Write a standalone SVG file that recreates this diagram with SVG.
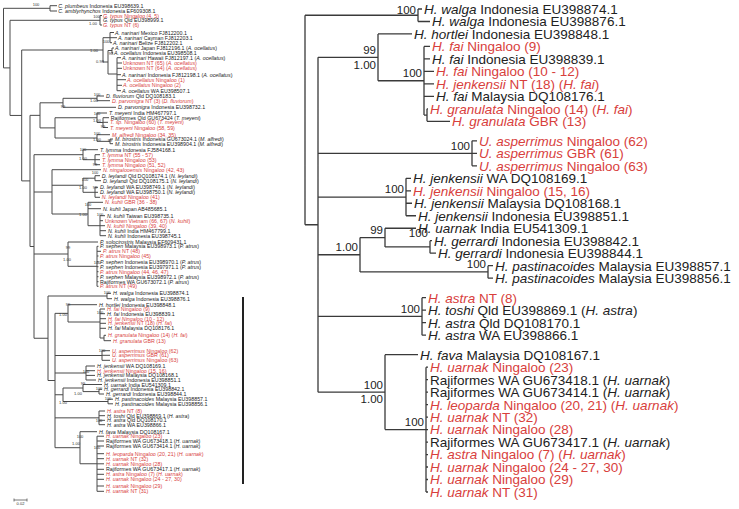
<svg xmlns="http://www.w3.org/2000/svg" width="739" height="509" viewBox="0 0 739 509">
<style>
text{font-family:"Liberation Sans",Arial,sans-serif;fill:#222}
.l{font-size:5.3px}
.r{font-size:13.5px}
.s{font-size:4px;text-anchor:middle;fill:#333}
.rs{font-size:11.5px;text-anchor:end;fill:#222}
.red{fill:#d8403c}
.i{font-style:italic}
.tree{fill:none;stroke:#4a4a4a;stroke-width:1}
.rtree{fill:none;stroke:#3a3a3a;stroke-width:1.3}
</style>
<rect width="739" height="509" fill="#fff"/>
<g id="connectors">
<path class="tree" d="M3.5,8.3V67.9M3.5,8.3H50M50,5.7V11M50,5.7H57M50,11H57
M3.5,67.9H10M10,20.3V115.45M10,20.3H100M100,15.5V25M100,15.5H102M100,25H102
M10,115.45H21.7M21.7,50V180.9M21.7,50H103M103,37.7V62M103,37.7H110M110,32.5V42.7M110,32.5H114M110,37.7H117M110,42.7H112
M103,62H108M108,50.5V74M108,50.5H112M112,48V53M112,48H114M112,53H113M108,74H117M117,57.7V90.7M117,57.7H121M117,63H122M117,68.3H122M117,74.7H121M117,79.7H126M117,85.3H122M117,90.7H121
M21.7,180.9H30M30,115.35V246.5M30,115.35H40M40,102.8V127.9M40,102.8H63M63,98.3V107.3M63,98.3H97M97,96V100.7M97,96H104M97,100.7H110M63,107.3H116
M40,127.9H55M55,117.75V138M55,117.75H97M97,113V122.5M97,113H107M97,122.5H103M103,117.7V127.5M103,117.7H109M103,122.3H108M103,127.5H108
M55,138H97M97,134.7V141.35M97,134.7H110M97,141.35H110M110,139V143.7M110,139H113M110,143.7H113
M30,246.5H34M34,154.7V338.25M34,154.7H83M83,149.7V159.7M83,149.7H98M83,159.7H95M95,154.7V164.7M95,154.7H100M95,159.7H100M95,164.7H100
M34,192H52M52,169.7V214M52,169.7H101M52,185.25H83M83,178.2V192.3M83,178.2H95M95,175.7V180.7M95,175.7H100M95,180.7H101M83,192.3H95M95,187.3V197.3M95,187.3H98M95,192.3H98M95,197.3H100
M52,214H88M88,202.3V225.7M88,202.3H103M88,208.7H101M88,225.7H100M100,215.7V235.7M100,215.7H105M100,220.7H103M100,225.7H105M100,230.7H106M100,235.7H106
M34,254H68M68,242V266.3M68,242H98M68,266.3H97M97,246.3V286.3M97,246.3H98.5M97,251.3H101M97,256H98.5M97,261.7H98.5M97,266.7H98.5M97,271.7H98.5M97,276.7H98.5M97,281.7H98.5M97,286.3H98.5
M34,338.25H48M48,296V380.5M48,296H107M107,293.3V298.7M107,293.3H111M107,298.7H112M48,380.5H55M55,313.35V447.7
M55,313.35H68M68,304.7V322M68,304.7H97M68,322H100M100,309V338M100,309H105M100,313.7H105M100,318.7H106M100,323.3H106M100,328.3H106M100,338H104M104,335.3V340.7M104,335.3H106M104,340.7H111
M55,355.5H102M102,350.7V360.3M102,350.7H110M102,355.3H110M102,360.3H110
M55,373H86M86,366V380M86,366H95M86,370.7H95M86,375.4H95M86,380H96
M55,394.75H63M63,388V401.5M63,388H83M83,384.5V391.6M83,384.5H102M83,391.6H99M99,389.2V394M99,389.2H102M99,394H104M63,401.5H108M108,399.2V403.8M108,399.2H113M108,403.8H113
M55,417.85H99M99,411V424.7M99,411H105M99,415.7H105M99,420.3H105M99,424.7H105
M55,447.7H80M80,431.7V463.75M80,431.7H97M80,463.75H97M97,436.2V491.3M97,436.2H104M97,441H104M97,446H104M97,453.7H104M97,458.7H104M97,463.8H104M97,469.3H104M97,474.3H104M97,479.3H104M97,486H104M97,491.3H104"/>
<path d="M243,297V484" fill="none" stroke="#222" stroke-width="2"/>
<path d="M14,500H27M14,498.5V501.5M27,498.5V501.5" fill="none" stroke="#555" stroke-width="0.8"/>
<path class="rtree" d="M305,15.24V224.75M305,15.24H418M418,9V21.48M418,9H422M418,21.48H430
M305,224.75H318M318,57.36V392.14
M318,57.36H378M378,33.96V80.76M378,33.96H412M378,80.76H424M424,46.44V115.08M424,46.44H430M424,58.92H430M424,71.4H434M424,83.88H434M424,96.36H434M424,115.08H427M427,108.84V121.32M427,108.84H428M427,121.32H450
M318,153.35H472M472,140.87V165.83M472,140.87H477M472,153.35H477M472,165.83H477
M318,197.03H406M406,178.31V215.75M406,178.31H411M406,190.79H411M406,203.27H412M406,215.75H416
M318,254.75H360M360,237.59V271.91M360,237.59H385M385,228.23V246.95M385,228.23H416M385,246.95H430M430,240.71V253.19M430,240.71H432M430,253.19H436M360,271.91H488M488,265.67V278.15M488,265.67H493M488,278.15H493
M318,316.42H422M422,297.7V335.14M422,297.7H426M422,310.18H426M422,322.66H426M422,335.14H426
M318,392.14H385M385,354.7V429.58M385,354.7H418M385,429.58H426M426,367.18V491.98M426,367.18H428M426,379.66H428M426,392.14H428M426,404.62H428M426,417.1H428M426,429.58H428M426,442.06H428M426,454.54H428M426,467.02H428M426,479.5H428M426,491.98H428"/>
</g>
<g id="left-support">
<text class="s" x="36" y="6.4">100</text>
<text class="s" x="96.7" y="18.4">100</text><text class="s" x="93" y="25.4">1.00</text>
<text class="s" x="106" y="43.4">100</text><text class="s" x="94" y="52.4">1.00</text>
<text class="s" x="111" y="55.4">98</text><text class="s" x="100" y="63.4">0.98</text>
<text class="s" x="97" y="96.4">100</text><text class="s" x="94" y="102.4">1.00</text><text class="s" x="63" y="108.4">99</text>
<text class="s" x="97" y="115.4">100</text><text class="s" x="97" y="122.4">1.00</text><text class="s" x="103" y="128.4">99</text>
<text class="s" x="97" y="135.4">100</text><text class="s" x="97" y="141.4">1.00</text><text class="s" x="110" y="142.4">99</text>
<text class="s" x="83" y="151.4">100</text><text class="s" x="83" y="160.4">1.00</text><text class="s" x="95" y="166.4">99</text>
<text class="s" x="95" y="174.4">100</text><text class="s" x="85" y="181.4">100</text><text class="s" x="83" y="189.4">1.00</text><text class="s" x="95" y="189.4">99</text>
<text class="s" x="88" y="206.4">100</text><text class="s" x="83" y="216.4">1.00</text><text class="s" x="100" y="216.4">100</text>
<text class="s" x="68" y="249.4">99</text><text class="s" x="67" y="261.4">1.00</text><text class="s" x="97" y="264.4">100</text>
<text class="s" x="107" y="294.4">100</text>
<text class="s" x="68" y="306.4">99</text><text class="s" x="63" y="316.4">1.00</text><text class="s" x="100" y="314.4">100</text>
<text class="s" x="102" y="352.4">100</text><text class="s" x="86" y="373.4">100</text>
<text class="s" x="83" y="385.4">99</text><text class="s" x="99" y="390.4">100</text><text class="s" x="78" y="395.4">1.00</text>
<text class="s" x="108" y="400.4">100</text><text class="s" x="63" y="404.4">1.00</text>
<text class="s" x="99" y="422.4">100</text>
<text class="s" x="80" y="438.4">100</text><text class="s" x="76" y="445.4">1.00</text><text class="s" x="97" y="449.4">100</text>
<text class="s" x="20.5" y="505">0.02</text>
</g>
<g id="left-leaves">
<text class="l" x="58.3" y="7.7"><tspan class="i">C. plumbeus</tspan> Indonesia EU398639.1</text>
<text class="l" x="58.3" y="13"><tspan class="i">C. amblyrhynchos</tspan> Indonesia EF609308.1</text>
<text class="l red" x="103" y="17.5"><tspan class="i">G. typus</tspan> Ningaloo (4, 5)</text>
<text class="l" x="103" y="22.3"><tspan class="i">G. typus</tspan> Qld EU398999.1</text>
<text class="l red" x="103" y="27"><tspan class="i">G. typus</tspan> NT (6)</text>
<text class="l" x="115" y="34.5"><tspan class="i">A. narinari</tspan> Mexico FJ812200.1</text>
<text class="l" x="118" y="39.7"><tspan class="i">A. narinari</tspan> Cayman FJ812203.1</text>
<text class="l" x="113" y="44.7"><tspan class="i">A. narinari</tspan> Belize FJ812202.1</text>
<text class="l" x="115" y="50"><tspan class="i">A. narinari</tspan> Japan FJ812196.1 (<tspan class="i">A. ocellatus</tspan>)</text>
<text class="l" x="114" y="55"><tspan class="i">A. ocellatus</tspan> Indonesia EU398508.1</text>
<text class="l" x="122" y="59.7"><tspan class="i">A. narinari</tspan> Hawaii FJ812197.1 (<tspan class="i">A. ocellatus</tspan>)</text>
<text class="l red" x="123" y="65">Unknown NT (65) (<tspan class="i">A. ocellatus</tspan>)</text>
<text class="l red" x="123" y="70.3">Unknown NT (64) (<tspan class="i">A. ocellatus</tspan>)</text>
<text class="l" x="122" y="76.7"><tspan class="i">A. narinari</tspan> Indonesia FJ812198.1 (<tspan class="i">A. ocellatus</tspan>)</text>
<text class="l red" x="127" y="81.7"><tspan class="i">A. ocellatus</tspan> Ningaloo (1)</text>
<text class="l red" x="123" y="87.3"><tspan class="i">A. ocellatus</tspan> Ningaloo (2)</text>
<text class="l" x="122" y="92.7"><tspan class="i">A. ocellatus</tspan> WA EU398507.1</text>
<text class="l" x="106" y="98"><tspan class="i">D. fluviorum</tspan> Qld DQ108183.1</text>
<text class="l red" x="112" y="102.7"><tspan class="i">D. parvonigra</tspan> NT (3) (<tspan class="i">D. fluviorum</tspan>)</text>
<text class="l" x="118" y="109.3"><tspan class="i">D. parvonigra</tspan> Indonesia EU398732.1</text>
<text class="l" x="109" y="115"><tspan class="i">T. meyeni</tspan> India HM467797.1</text>
<text class="l" x="110.7" y="119.7">Rajiformes Qld GU673424 (<tspan class="i">T. meyeni</tspan>)</text>
<text class="l red" x="110" y="124.3"><tspan class="i">T. sp.</tspan> Ningaloo (60) (<tspan class="i">T. meyeni</tspan>)</text>
<text class="l red" x="110" y="129.5"><tspan class="i">T. meyeni</tspan> Ningaloo (58, 59)</text>
<text class="l red" x="112" y="136.7"><tspan class="i">M. alfredi</tspan> Ningaloo (34, 35)</text>
<text class="l" x="115" y="141"><tspan class="i">M. birostris</tspan> Indonesia GU673024.1 (<tspan class="i">M. alfredi</tspan>)</text>
<text class="l" x="115" y="145.7"><tspan class="i">M. birostris</tspan> Indonesia EU398904.1 (<tspan class="i">M. alfredi</tspan>)</text>
<text class="l" x="100" y="151.7"><tspan class="i">T. lymma</tspan> Indonesia FJ584168.1</text>
<text class="l red" x="101.7" y="156.7"><tspan class="i">T. lymma</tspan> NT (55 - 57)</text>
<text class="l red" x="102" y="161.7"><tspan class="i">T. lymma</tspan> Ningaloo (53)</text>
<text class="l red" x="102" y="166.7"><tspan class="i">T. lymma</tspan> Ningaloo (51, 52)</text>
<text class="l red" x="103" y="171.7"><tspan class="i">N. ningalooensis</tspan> Ningaloo (42, 43)</text>
<text class="l" x="101.7" y="177.7"><tspan class="i">D. leylandi</tspan> Qld DQ108174.1 (<tspan class="i">N. leylandi</tspan>)</text>
<text class="l" x="103" y="182.7"><tspan class="i">D. leylandi</tspan> Qld DQ108175.1 (<tspan class="i">N. leylandi</tspan>)</text>
<text class="l" x="100" y="189.3"><tspan class="i">D. leylandi</tspan> WA EU398749.1 (<tspan class="i">N. leylandi</tspan>)</text>
<text class="l" x="100" y="194.3"><tspan class="i">D. leylandi</tspan> WA EU398750.1 (<tspan class="i">N. leylandi</tspan>)</text>
<text class="l red" x="101.7" y="199.3"><tspan class="i">N. leylandi</tspan> Ningaloo (41)</text>
<text class="l red" x="105" y="204.3"><tspan class="i">N. kuhli</tspan> GBR (36 - 38)</text>
<text class="l" x="103" y="210.7"><tspan class="i">N. kuhli</tspan> Japan AB485685.1</text>
<text class="l" x="107" y="217.7"><tspan class="i">N. kuhli</tspan> Taiwan EU398735.1</text>
<text class="l red" x="105" y="222.7">Unknown Vietnam (66, 67) (<tspan class="i">N. kuhli</tspan>)</text>
<text class="l red" x="107" y="227.7"><tspan class="i">N. kuhli</tspan> Ningaloo (39, 40)</text>
<text class="l" x="108" y="232.7"><tspan class="i">N. kuhli</tspan> India HM467799.1</text>
<text class="l" x="108" y="237.7"><tspan class="i">N. kuhli</tspan> Indonesia EU398745.1</text>
<text class="l" x="100" y="244"><tspan class="i">P. solocirostris</tspan> Malaysia EF609431.1</text>
<text class="l" x="100" y="248.3"><tspan class="i">P. sephen</tspan> Malaysia EU398973.1 (<tspan class="i">P. atrus</tspan>)</text>
<text class="l red" x="103" y="253.3"><tspan class="i">P. atrus</tspan> NT (48)</text>
<text class="l red" x="100" y="258"><tspan class="i">P. atrus</tspan> Ningaloo (45)</text>
<text class="l" x="100" y="263.7"><tspan class="i">P. sephen</tspan> Indonesia EU398970.1 (<tspan class="i">P. atrus</tspan>)</text>
<text class="l" x="100" y="268.7"><tspan class="i">P. sephen</tspan> Indonesia EU397971.1 (<tspan class="i">P. atrus</tspan>)</text>
<text class="l red" x="100" y="273.7"><tspan class="i">P. atrus</tspan> Ningaloo (44, 46, 47)</text>
<text class="l" x="100" y="278.7"><tspan class="i">P. sephen</tspan> Malaysia EU398972.1 (<tspan class="i">P. atrus</tspan>)</text>
<text class="l" x="100" y="283.7">Rajiformes WA GU673072.1 (<tspan class="i">P. atrus</tspan>)</text>
<text class="l red" x="100" y="288.3"><tspan class="i">P. atrus</tspan> NT (49)</text>
<text class="l" x="113" y="295.3"><tspan class="i">H. walga</tspan> Indonesia EU398874.1</text>
<text class="l" x="114" y="300.7"><tspan class="i">H. walga</tspan> Indonesia EU398876.1</text>
<text class="l" x="99" y="306.7"><tspan class="i">H. hortlei</tspan> Indonesia EU398848.1</text>
<text class="l red" x="107" y="311"><tspan class="i">H. fai</tspan> Ningaloo (9)</text>
<text class="l" x="107" y="315.7"><tspan class="i">H. fai</tspan> Indonesia EU398839.1</text>
<text class="l red" x="108" y="320.7"><tspan class="i">H. fai Ningaloo</tspan> (10 - 12)</text>
<text class="l red" x="108" y="325.3"><tspan class="i">H. jenkensii</tspan> NT (18) (<tspan class="i">H. fai</tspan>)</text>
<text class="l" x="108" y="330.3"><tspan class="i">H. fai</tspan> Malaysia DQ108176.1</text>
<text class="l red" x="108" y="337.3"><tspan class="i">H. granulata</tspan> Ningaloo (14) (<tspan class="i">H. fai</tspan>)</text>
<text class="l red" x="113" y="342.7"><tspan class="i">H. granulata</tspan> GBR (13)</text>
<text class="l red" x="112" y="352.7"><tspan class="i">U. asperrimus</tspan> Ningaloo (62)</text>
<text class="l red" x="112" y="357.3"><tspan class="i">U. asperrimus</tspan> GBR (61)</text>
<text class="l red" x="112" y="362.3"><tspan class="i">U. asperrimus</tspan> Ningaloo (63)</text>
<text class="l" x="97" y="368"><tspan class="i">H. jenkensii</tspan> WA DQ108169.1</text>
<text class="l red" x="97" y="372.7"><tspan class="i">H. jenkensii</tspan> Ningaloo (15, 16)</text>
<text class="l" x="97" y="377.4"><tspan class="i">H. jenkensii</tspan> Malaysia DQ108168.1</text>
<text class="l" x="98" y="382"><tspan class="i">H. jenkensii</tspan> Indonesia EU398851.1</text>
<text class="l" x="104" y="386.5"><tspan class="i">H. uarnak</tspan> India EU541309.1</text>
<text class="l" x="104" y="391.2"><tspan class="i">H. gerrardi</tspan> Indonesia EU398842.1</text>
<text class="l" x="106" y="396"><tspan class="i">H. gerrardi</tspan> Indonesia EU398844.1</text>
<text class="l" x="115" y="401.2"><tspan class="i">H. pastinacoides</tspan> Malaysia EU398857.1</text>
<text class="l" x="115" y="405.8"><tspan class="i">H. pastinacoides</tspan> Malaysia EU398856.1</text>
<text class="l red" x="107" y="413"><tspan class="i">H. astra</tspan> NT (8)</text>
<text class="l" x="107" y="417.7"><tspan class="i">H. toshi</tspan> Qld EU398869.1 (<tspan class="i">H. astra</tspan>)</text>
<text class="l" x="107" y="422.3"><tspan class="i">H. astra</tspan> Qld DQ108170.1</text>
<text class="l" x="107" y="426.7"><tspan class="i">H. astra</tspan> WA EU398866.1</text>
<text class="l" x="99" y="433.7"><tspan class="i">H. fava</tspan> Malaysia DQ108167.1</text>
<text class="l red" x="106" y="438.2"><tspan class="i">H. uarnak</tspan> Ningaloo (23)</text>
<text class="l" x="106" y="443">Rajiformes WA GU673418.1 (<tspan class="i">H. uarnak</tspan>)</text>
<text class="l" x="106" y="448">Rajiformes WA GU673414.1 (<tspan class="i">H. uarnak</tspan>)</text>
<text class="l red" x="106" y="455.7"><tspan class="i">H. leoparda</tspan> Ningaloo (20, 21) (<tspan class="i">H. uarnak</tspan>)</text>
<text class="l red" x="106" y="460.7"><tspan class="i">H. uarnak</tspan> NT (32)</text>
<text class="l red" x="106" y="465.8"><tspan class="i">H. uarnak</tspan> Ningaloo (28)</text>
<text class="l" x="106" y="471.3">Rajiformes WA GU673417.1 (<tspan class="i">H. uarnak</tspan>)</text>
<text class="l red" x="106" y="476.3"><tspan class="i">H. astra</tspan> Ningaloo (7) (<tspan class="i">H. uarnak</tspan>)</text>
<text class="l red" x="106" y="481.3"><tspan class="i">H. uarnak</tspan> Ningaloo (24 - 27, 30)</text>
<text class="l red" x="106" y="488"><tspan class="i">H. uarnak</tspan> Ningaloo (29)</text>
<text class="l red" x="106" y="493.3"><tspan class="i">H. uarnak</tspan> NT (31)</text>
</g>
<g id="right-support">
<text class="rs" x="416" y="14">100</text>
<text class="rs" x="376" y="54">99</text><text class="rs" x="376" y="69">1.00</text>
<text class="rs" x="422" y="77">100</text>
<text class="rs" x="470" y="150">100</text>
<text class="rs" x="404" y="193">100</text>
<text class="rs" x="383" y="234">99</text><text class="rs" x="428" y="237">100</text><text class="rs" x="358" y="251">1.00</text>
<text class="rs" x="486" y="268">100</text>
<text class="rs" x="420" y="313">100</text>
<text class="rs" x="383" y="389">100</text><text class="rs" x="383" y="403">1.00</text><text class="rs" x="424" y="426">100</text>
</g>
<g id="right-leaves">
<text class="r" x="424" y="13.85"><tspan class="i">H. walga</tspan> Indonesia EU398874.1</text>
<text class="r" x="432" y="26.3"><tspan class="i">H. walga</tspan> Indonesia EU398876.1</text>
<text class="r" x="414" y="38.8"><tspan class="i">H. hortlei</tspan> Indonesia EU398848.1</text>
<text class="r red" x="432" y="51.3"><tspan class="i">H. fai</tspan> Ningaloo (9)</text>
<text class="r" x="432" y="63.8"><tspan class="i">H. fai</tspan> Indonesia EU398839.1</text>
<text class="r red" x="436" y="76.2"><tspan class="i">H. fai</tspan> Ningaloo (10 - 12)</text>
<text class="r red" x="436" y="88.7"><tspan class="i">H. jenkensii</tspan> NT (18) (<tspan class="i">H. fai</tspan>)</text>
<text class="r" x="436" y="101.2"><tspan class="i">H. fai</tspan> Malaysia DQ108176.1</text>
<text class="r red" x="430" y="113.7"><tspan class="i">H. granulata</tspan> Ningaloo (14) (<tspan class="i">H. fai</tspan>)</text>
<text class="r red" x="452" y="126.2"><tspan class="i">H. granulata</tspan> GBR (13)</text>
<text class="r red" x="479" y="145.7"><tspan class="i">U. asperrimus</tspan> Ningaloo (62)</text>
<text class="r red" x="479" y="158.2"><tspan class="i">U. asperrimus</tspan> GBR (61)</text>
<text class="r red" x="479" y="170.7"><tspan class="i">U. asperrimus</tspan> Ningaloo (63)</text>
<text class="r" x="413" y="183.2"><tspan class="i">H. jenkensii</tspan> WA DQ108169.1</text>
<text class="r red" x="413" y="195.6"><tspan class="i">H. jenkensii</tspan> Ningaloo (15, 16)</text>
<text class="r" x="414" y="208.1"><tspan class="i">H. jenkensii</tspan> Malaysia DQ108168.1</text>
<text class="r" x="418" y="220.6"><tspan class="i">H. jenkensii</tspan> Indonesia EU398851.1</text>
<text class="r" x="418" y="233.1"><tspan class="i">H. uarnak</tspan> India EU541309.1</text>
<text class="r" x="434" y="245.6"><tspan class="i">H. gerrardi</tspan> Indonesia EU398842.1</text>
<text class="r" x="438" y="258"><tspan class="i">H. gerrardi</tspan> Indonesia EU398844.1</text>
<text class="r" x="495" y="270.5"><tspan class="i">H. pastinacoides</tspan> Malaysia EU398857.1</text>
<text class="r" x="495" y="283"><tspan class="i">H. pastinacoides</tspan> Malaysia EU398856.1</text>
<text class="r red" x="428" y="302.6"><tspan class="i">H. astra</tspan> NT (8)</text>
<text class="r" x="428" y="315"><tspan class="i">H. toshi</tspan> Qld EU398869.1 (<tspan class="i">H. astra</tspan>)</text>
<text class="r" x="428" y="327.5"><tspan class="i">H. astra</tspan> Qld DQ108170.1</text>
<text class="r" x="428" y="340"><tspan class="i">H. astra</tspan> WA EU398866.1</text>
<text class="r" x="420" y="359.6"><tspan class="i">H. fava</tspan> Malaysia DQ108167.1</text>
<text class="r red" x="430" y="372"><tspan class="i">H. uarnak</tspan> Ningaloo (23)</text>
<text class="r" x="430" y="384.5">Rajiformes WA GU673418.1 (<tspan class="i">H. uarnak</tspan>)</text>
<text class="r" x="430" y="397">Rajiformes WA GU673414.1 (<tspan class="i">H. uarnak</tspan>)</text>
<text class="r red" x="430" y="409.5"><tspan class="i">H. leoparda</tspan> Ningaloo (20, 21) (<tspan class="i">H. uarnak</tspan>)</text>
<text class="r red" x="430" y="421.9"><tspan class="i">H. uarnak</tspan> NT (32)</text>
<text class="r red" x="430" y="434.4"><tspan class="i">H. uarnak</tspan> Ningaloo (28)</text>
<text class="r" x="430" y="446.9">Rajiformes WA GU673417.1 (<tspan class="i">H. uarnak</tspan>)</text>
<text class="r red" x="430" y="459.4"><tspan class="i">H. astra</tspan> Ningaloo (7) (<tspan class="i">H. uarnak</tspan>)</text>
<text class="r red" x="430" y="471.9"><tspan class="i">H. uarnak</tspan> Ningaloo (24 - 27, 30)</text>
<text class="r red" x="430" y="484.3"><tspan class="i">H. uarnak</tspan> Ningaloo (29)</text>
<text class="r red" x="430" y="496.8"><tspan class="i">H. uarnak</tspan> NT (31)</text>
</g>
</svg>
